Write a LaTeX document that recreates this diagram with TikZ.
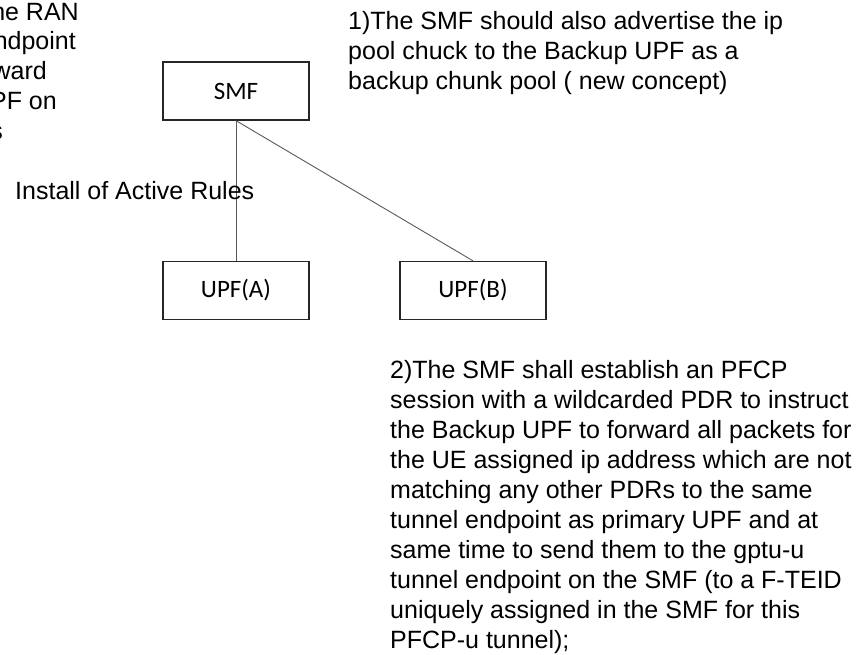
\documentclass[tikz,border=0pt]{standalone}
\usepackage{fontspec}
\setmainfont{Liberation Sans}
\newfontfamily\boxfont{Carlito}
\begin{document}
\begin{tikzpicture}[x=1pt,y=-1pt,
  box/.style={draw=black!85, line width=1.3pt, minimum width=146pt, minimum height=58pt,
    inner sep=0pt, font=\boxfont\fontsize{25}{30}\selectfont},
  link/.style={draw=black!65, line width=0.9pt},
  txt/.style={inner sep=0pt, align=left, font=\fontsize{25}{30}\selectfont}]
\useasboundingbox (0,0) rectangle (861,655);
\clip (0,0) rectangle (861,655);
% cut-off text at left edge
\node[txt, anchor=base east] (l1) at (79,21) {he RAN};
\node[txt, anchor=base east] (l2) at (76,50) {ndpoint};
\node[txt, anchor=base east] (l3) at (47,80) {ward};
\node[txt, anchor=base east] (l4) at (57,110) {PF on};
\node[txt, anchor=base east] (l5) at (3,140) {s};
% boxes
\node[box] (smf) at (236,91) {SMF};
\node[box] (upfa) at (236,290.5) {UPF(A)};
\node[box] (upfb) at (473,290.5) {UPF(B)};
% connectors
\draw[link] (smf.south) -- (upfa.north);
\draw[link] (smf.south) -- (upfb.north);
% labels (base anchor = baseline of the last line)
\node[txt, anchor=base west] (install) at (15,200) {Install of Active Rules};
\node[txt, anchor=base west] (note1) at (348,90) {1)The SMF should also advertise the ip\\pool chuck to the Backup UPF as a\\backup chunk pool ( new concept)};
\node[txt, anchor=base west] (note2) at (390,648) {2)The SMF shall establish an PFCP\\session with a wildcarded PDR to instruct\\the Backup UPF to forward all packets for\\the UE assigned ip address which are not\\matching any other PDRs to the same\\tunnel endpoint as primary UPF and at\\same time to send them to the gptu-u\\tunnel endpoint on the SMF (to a F-TEID\\uniquely assigned in the SMF for this\\PFCP-u tunnel);};
\end{tikzpicture}
\end{document}
